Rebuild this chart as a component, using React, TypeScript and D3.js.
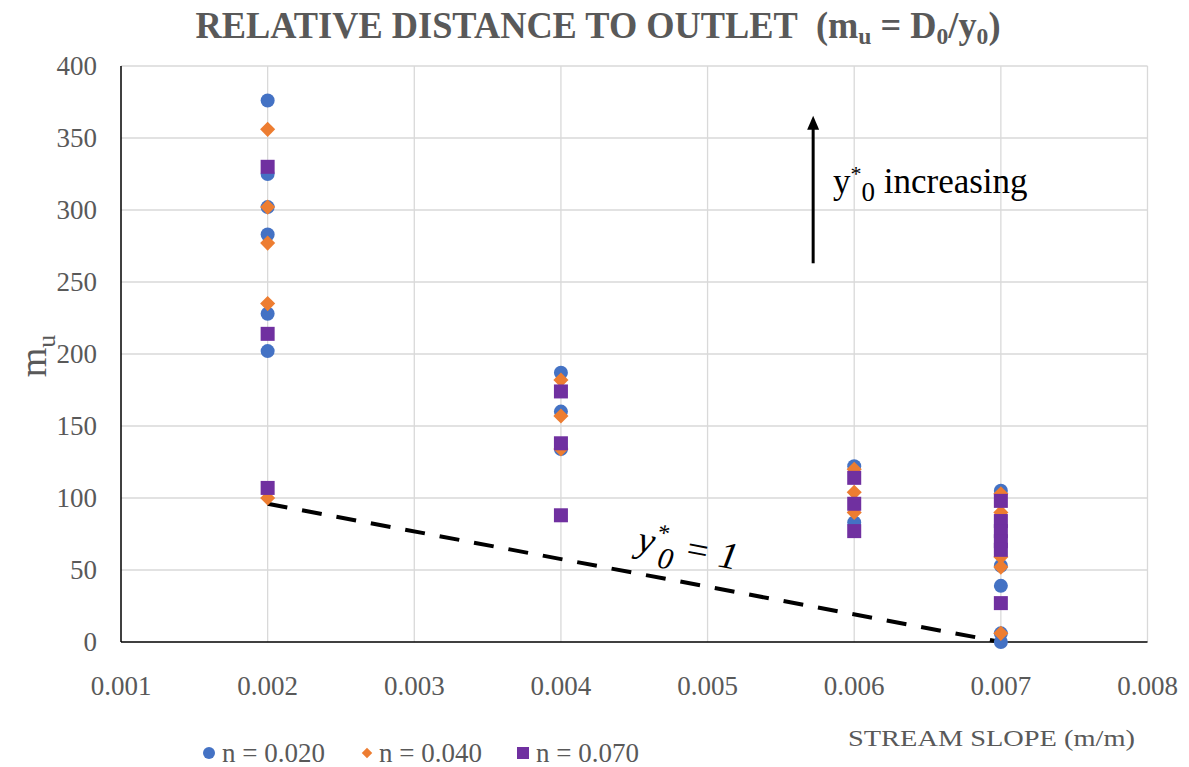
import React from "react";
import * as d3 from "d3";

const xTicks = [0.001, 0.002, 0.003, 0.004, 0.005, 0.006, 0.007, 0.008];
const yTicks = [0, 50, 100, 150, 200, 250, 300, 350, 400];

const blueSlopes = [0.002, 0.002, 0.002, 0.002, 0.002, 0.002, 0.004, 0.004, 0.004, 0.006, 0.006, 0.007, 0.007, 0.007, 0.007, 0.007];
const blueValues = [376, 325, 302, 283, 228, 202, 187, 160, 134, 122, 83, 105, 53, 39, 6, 0];

const orangeSlopes = [0.002, 0.002, 0.002, 0.002, 0.002, 0.004, 0.004, 0.004, 0.006, 0.006, 0.006, 0.007, 0.007, 0.007, 0.007, 0.007];
const orangeValues = [356, 302, 277, 235, 100, 182, 157, 134, 120, 104, 90, 103, 90, 59, 52, 6];

const purpleSlopes = [0.002, 0.002, 0.002, 0.004, 0.004, 0.004, 0.006, 0.006, 0.006, 0.007, 0.007, 0.007, 0.007, 0.007, 0.007];
const purpleValues = [330, 214, 107, 174, 138, 88, 114, 96, 77, 98, 84, 77, 70, 64, 27];

const refSlopes = [0.002, 0.007];
const refValues = [96, 0];

const arrowSlope = 0.00572;
const arrowFrom = 263;
const arrowTo = 364;

const legendLabels = ["n = 0.020", "n = 0.040", "n = 0.070"];

const BLUE = "#4472C4";
const ORANGE = "#ED7D31";
const PURPLE = "#7030A0";
const GRID = "#D9D9D9";
const TEXT = "#595959";
const FONT = "'Liberation Serif', 'Times New Roman', serif";

export default function App() {
  const W = 1189;
  const H = 767;
  const x = d3.scaleLinear().domain([0.001, 0.008]).range([121, 1147.5]);
  const y = d3.scaleLinear().domain([0, 400]).range([642, 66]);

  const circle = (cx: number, cy: number, k: string) => (
    <circle key={k} cx={cx} cy={cy} r={7} fill={BLUE} />
  );
  const diamond = (cx: number, cy: number, k: string) => (
    <path key={k} d={d3.symbol(d3.symbolDiamond2, 145)() as string} transform={`translate(${cx},${cy})`} fill={ORANGE} />
  );
  const square = (cx: number, cy: number, k: string) => (
    <rect key={k} x={cx - 7} y={cy - 7} width={14} height={14} fill={PURPLE} />
  );

  const line = d3.line<number>().x((_, i) => x(refSlopes[i])).y((d) => y(d));
  const ang = (Math.atan2(y(refValues[1]) - y(refValues[0]), x(refSlopes[1]) - x(refSlopes[0])) * 180) / Math.PI;

  const ax = x(arrowSlope);
  return (
    <svg width={W} height={H} style={{ position: "absolute", left: 0, top: 0 }} fontFamily={FONT}>
      <rect width={W} height={H} fill="#fff" />
      {/* grid */}
      {yTicks.filter((t) => t > 0).map((t) => (
        <line key={"gy" + t} x1={x(0.001)} x2={x(0.008)} y1={y(t)} y2={y(t)} stroke={GRID} strokeWidth={1.3} />
      ))}
      {xTicks.filter((t) => t > 0.001).map((t) => (
        <line key={"gx" + t} x1={x(t)} x2={x(t)} y1={y(0)} y2={y(400)} stroke={GRID} strokeWidth={1.3} />
      ))}
      {/* axes */}
      <line x1={x(0.001)} x2={x(0.001)} y1={y(0)} y2={y(400)} stroke="#000" strokeWidth={1.5} />
      <line x1={x(0.001)} x2={x(0.008)} y1={y(0)} y2={y(0)} stroke="#000" strokeWidth={1.5} />
      {/* tick labels */}
      {yTicks.map((t) => (
        <text key={"yl" + t} x={97} y={y(t) + 9} textAnchor="end" fontSize={27} fill={TEXT}>{t}</text>
      ))}
      {xTicks.map((t) => (
        <text key={"xl" + t} x={x(t)} y={695} textAnchor="middle" fontSize={27} fill={TEXT}>{d3.format(".3f")(t)}</text>
      ))}
      {/* dashed reference line */}
      <path d={line(refValues) as string} fill="none" stroke="#000" strokeWidth={4} strokeDasharray="20 15" />
      <text transform={`translate(636,551) rotate(${ang})`} fontSize={38} fontStyle="italic" fill="#000">
        y<tspan dy={-15} fontSize={24}>*</tspan><tspan dy={27} dx={-6} fontSize={30}>0</tspan><tspan dy={-12}> = 1</tspan>
      </text>
      {/* points */}
      {blueValues.map((v, i) => circle(x(blueSlopes[i]), y(v), "b" + i))}
      {orangeValues.map((v, i) => diamond(x(orangeSlopes[i]), y(v), "o" + i))}
      {purpleValues.map((v, i) => square(x(purpleSlopes[i]), y(v), "p" + i))}
      {/* arrow */}
      <line x1={ax} x2={ax} y1={y(arrowFrom)} y2={y(arrowTo) + 10} stroke="#000" strokeWidth={3} />
      <path d={`M${ax},${y(arrowTo) - 2} L${ax - 6},${y(arrowTo) + 12} L${ax + 6},${y(arrowTo) + 12} Z`} fill="#000" />
      <text x={833} y={193} fontSize={35} fill="#000">
        y<tspan dy={-12} fontSize={22}>*</tspan><tspan dy={20} fontSize={27}>0</tspan><tspan dy={-8}>{"\u00A0"}increasing</tspan>
      </text>
      {/* title */}
      <text x={598} y={38} textAnchor="middle" fontSize={37} fontWeight="bold" fill={TEXT} textLength={805} lengthAdjust="spacingAndGlyphs">
        RELATIVE DISTANCE TO OUTLET{"\u00A0\u00A0"}(m<tspan dy={6} fontSize={24}>u</tspan><tspan dy={-6}> = D</tspan><tspan dy={6} fontSize={24}>0</tspan><tspan dy={-6}>/y</tspan><tspan dy={6} fontSize={24}>0</tspan><tspan dy={-6}>)</tspan>
      </text>
      {/* y axis label */}
      <text transform="translate(46,356) rotate(-90)" textAnchor="middle" fontSize={38} fill={TEXT}>
        m<tspan dy={9} fontSize={26}>u</tspan>
      </text>
      {/* x axis title */}
      <text x={848} y={746} fontSize={23} fill={TEXT} textLength={287} lengthAdjust="spacingAndGlyphs">STREAM SLOPE (m/m)</text>
      {/* legend */}
      <circle cx={209} cy={753} r={6} fill={BLUE} />
      <text x={222} y={762} fontSize={27} fill={TEXT}>{legendLabels[0]}</text>
      <path d={d3.symbol(d3.symbolDiamond2, 70)() as string} transform="translate(367,753)" fill={ORANGE} />
      <text x={379} y={762} fontSize={27} fill={TEXT}>{legendLabels[1]}</text>
      <rect x={517} y={747} width={12} height={12} fill={PURPLE} />
      <text x={536} y={762} fontSize={27} fill={TEXT}>{legendLabels[2]}</text>
    </svg>
  );
}
